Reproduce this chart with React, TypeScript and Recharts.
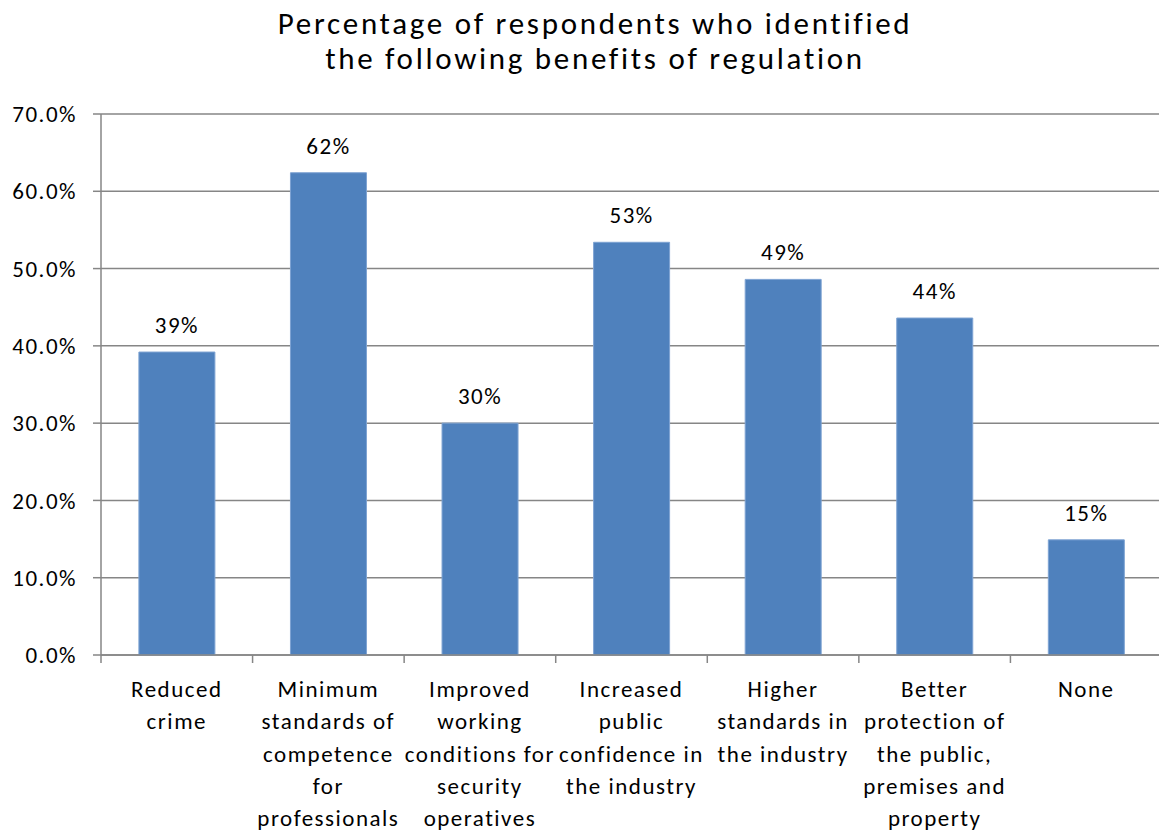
import { BarChart, Bar, XAxis, YAxis, CartesianGrid, LabelList } from 'recharts';

const categories = [
  'Reduced\ncrime',
  'Minimum\nstandards of\ncompetence\nfor\nprofessionals',
  'Improved\nworking\nconditions for\nsecurity\noperatives',
  'Increased\npublic\nconfidence in\nthe industry',
  'Higher\nstandards in\nthe industry',
  'Better\nprotection of\nthe public,\npremises and\nproperty',
  'None',
];
const shares = [39.2, 62.4, 30.0, 53.4, 48.6, 43.6, 14.9];
const yTicks = [0, 10, 20, 30, 40, 50, 60, 70];
const title = ['Percentage of respondents who identified', 'the following benefits of regulation'];

const data = categories.map((name, i) => ({ name, value: shares[i] }));

const FONT = 'Carlito, Calibri, Lato, sans-serif';
const GRID = '#868686';
const W = 1170;
const H = 834;
const Y_AXIS_W = 101;
const RIGHT = 8;
const STEP = (W - Y_AXIS_W - RIGHT) / categories.length;
const textStyle = { fontFamily: FONT, fontSize: 23, letterSpacing: 1.5, fill: '#000' };

const CategoryTick = ({ x, y, payload }: any) => {
  const lines = String(payload.value).split('\n');
  return (
    <g>
      <line x1={x - STEP / 2} x2={x - STEP / 2} y1={y} y2={y + 8} stroke={GRID} strokeWidth={1.5} />
      <text x={x} y={y + 42} textAnchor="middle" style={textStyle}>
        {lines.map((l, i) => (
          <tspan key={i} x={x} dy={i === 0 ? 0 : 32.3}>{l}</tspan>
        ))}
      </text>
    </g>
  );
};

export default function App() {
  return (
    <div style={{ position: 'absolute', left: 0, top: 0, width: 1159, height: H, overflow: 'hidden', background: '#fff' }}>
      <div
        style={{
          position: 'absolute', left: 0, top: 6, width: 1190, textAlign: 'center',
          fontFamily: FONT, fontSize: 31, letterSpacing: 2.7, lineHeight: '35px', color: '#000',
        }}
      >
        {title.map((t) => <div key={t}>{t}</div>)}
      </div>
      <BarChart width={W} height={H} data={data} margin={{ top: 114, right: RIGHT, bottom: 0, left: 0 }} barCategoryGap="25%">
        <CartesianGrid vertical={false} stroke={GRID} strokeWidth={1.5} />
        <XAxis
          dataKey="name"
          height={H - 114 - 541}
          interval={0}
          tickLine={false}
          tickSize={0}
          tickMargin={0}
          axisLine={{ stroke: GRID, strokeWidth: 1.5 }}
          tick={<CategoryTick />}
        />
        <YAxis
          width={Y_AXIS_W}
          domain={[0, 70]}
          ticks={yTicks}
          interval={0}
          tickSize={8}
          tickMargin={16}
          axisLine={{ stroke: GRID, strokeWidth: 1.5 }}
          tickLine={{ stroke: GRID, strokeWidth: 1.5 }}
          tickFormatter={(v: number) => `${v.toFixed(1)}%`}
          tick={textStyle}
        />
        <Bar dataKey="value" fill="#4F81BD" stroke="#7EA3D3" strokeWidth={1} isAnimationActive={false}>
          <LabelList
            dataKey="value"
            position="top"
            offset={19}
            formatter={(v: any) => `${Math.round(Number(v))}%`}
            style={textStyle}
          />
        </Bar>
      </BarChart>
    </div>
  );
}
